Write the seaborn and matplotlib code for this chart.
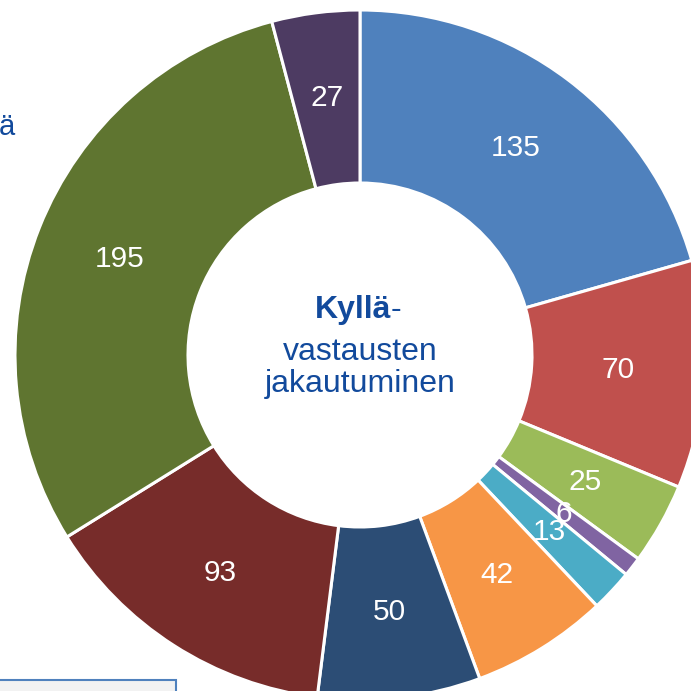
import matplotlib
matplotlib.use("Agg")
import matplotlib.pyplot as plt
from matplotlib.patches import Rectangle
import seaborn as sns

# data (clockwise from 12 o'clock)
values = [135, 70, 25, 6, 13, 42, 50, 93, 195, 27]
colors = ["#4F81BD", "#C0504D", "#9BBB59", "#8064A2", "#4BACC6",
          "#F79646", "#2C4D75", "#772C2A", "#5F7530", "#4D3B62"]
center_lines = ["Kyllä", "-", "vastausten", "jakautuminen"]

sns.set_theme(style="white")
plt.rcParams["font.family"] = ["Liberation Sans", "DejaVu Sans"]

TXT = "#124A9C"
total = sum(values)

fig = plt.figure(figsize=(6.91, 6.91), dpi=100)
ax = fig.add_axes([0, 0, 1, 1])

wedges, _, autotexts = ax.pie(
    values, colors=colors, radius=345, startangle=90, counterclock=False,
    autopct=lambda p: f"{round(p * total / 100)}", pctdistance=0.75,
    wedgeprops=dict(width=173, edgecolor="white", linewidth=2.2),
    textprops=dict(color="white", fontsize=21.5),
)

# pixel-like coordinates: centre of the ring at (360, 355) from top-left
ax.set_xlim(-360, 331)
ax.set_ylim(-336, 355)
ax.set_aspect("equal")
ax.axis("off")

# centre caption
ax.text(31, 355 - 318, center_lines[0], ha="right", va="baseline",
        fontsize=23, fontweight="bold", color=TXT)
ax.text(31, 355 - 318, center_lines[1], ha="left", va="baseline",
        fontsize=23, color=TXT)
ax.text(0, 355 - 360, center_lines[2], ha="center", va="baseline",
        fontsize=23, color=TXT)
ax.text(0, 355 - 392, center_lines[3], ha="center", va="baseline",
        fontsize=23, color=TXT)

# clipped fragment of a title at the left edge
ax.text(-361, 355 - 135, "ä", ha="left", va="baseline", fontsize=21, color=TXT)

# partly visible box at the bottom left
ax.add_patch(Rectangle((-362, -345), 178, 20, facecolor="#F2F2F2",
                       edgecolor="#4F81BD", linewidth=1.5, zorder=3))

fig.savefig("out.png", dpi=100)
